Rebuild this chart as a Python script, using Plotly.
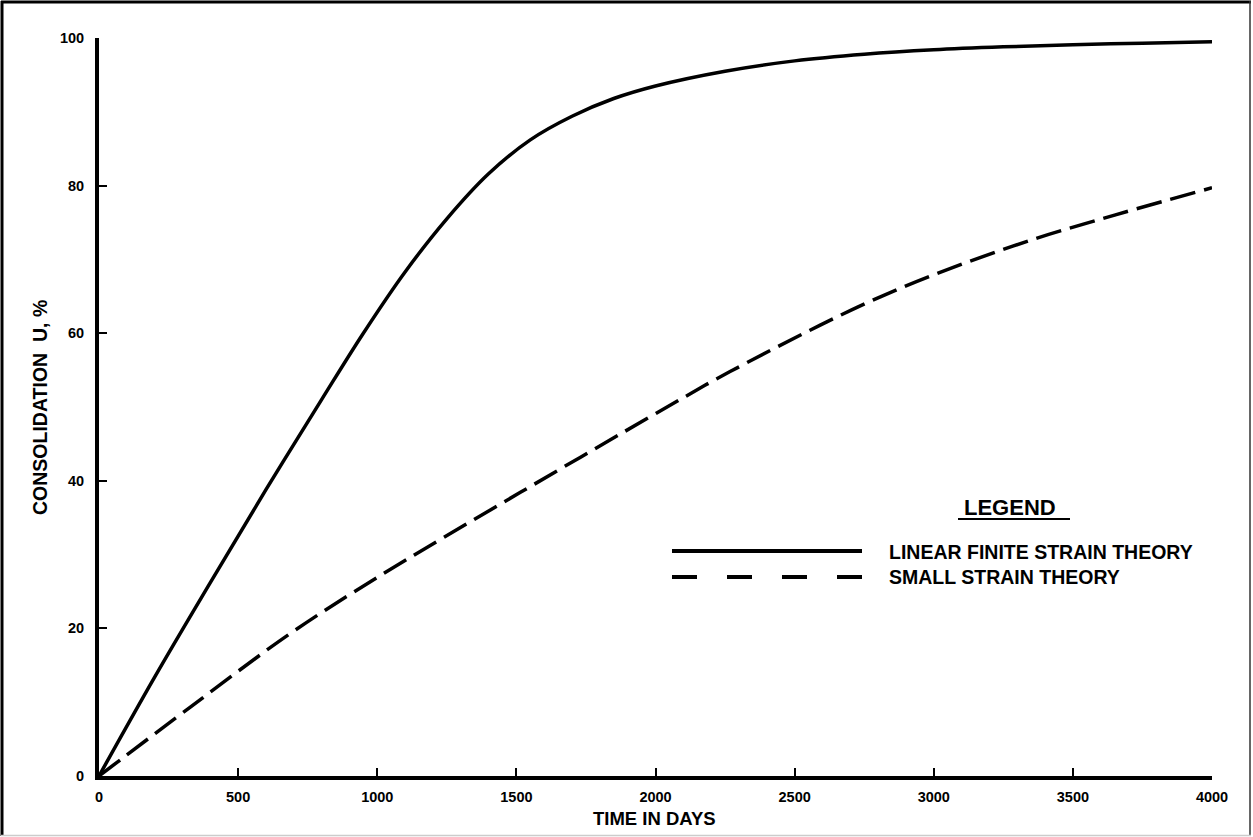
import plotly.graph_objects as go

# ---- data ----
finite_t = [0, 200, 400, 600, 800, 950, 1100, 1250, 1400, 1550, 1700, 1850, 2000,
            2250, 2500, 2750, 3000, 3250, 3500, 3750, 4000]
finite_u = [0, 13.4, 26.2, 38.8, 51.0, 60.0, 68.3, 75.5, 81.6, 86.2, 89.4, 91.8, 93.5,
            95.5, 96.9, 97.8, 98.4, 98.8, 99.1, 99.3, 99.5]

small_t = [0, 327, 687, 1000, 1513, 2088, 2268, 2806, 3284, 3650, 4000]
small_u = [0, 9.3, 19.3, 26.9, 38.4, 51.0, 54.8, 64.9, 71.8, 76.0, 79.7]

x_ticks = [0, 500, 1000, 1500, 2000, 2500, 3000, 3500, 4000]
y_ticks = [0, 20, 40, 60, 80, 100]

x_title = "TIME IN DAYS"
y_title = "CONSOLIDATION\u00a0\u00a0U, %"
legend_title = "LEGEND"
name_finite = "LINEAR FINITE STRAIN THEORY"
name_small = "SMALL STRAIN THEORY"

# ---- layout geometry ----
W, H = 1253, 837
L, R, T, B = 99, 1212, 38, 776
FONT = "Liberation Sans, Arial, sans-serif"


def px(x):
    return (x - L) / (R - L)


def py(y):
    return (B - y) / (B - T)


fig = go.Figure()
fig.add_trace(go.Scatter(x=finite_t, y=finite_u, mode="lines", name=name_finite,
                         line=dict(color="black", width=3.5, shape="spline", smoothing=1.0),
                         showlegend=False))
fig.add_trace(go.Scatter(x=small_t, y=small_u, mode="lines", name=name_small,
                         line=dict(color="black", width=3.5, dash="26px,9px", shape="spline", smoothing=1.0),
                         showlegend=False))

axis_common = dict(showgrid=False, zeroline=False, showline=True, linecolor="black", linewidth=4,
                   ticks="inside", ticklen=8, tickwidth=2, tickcolor="black",
                   tickfont=dict(family=FONT, size=14.5, color="black", weight="bold"))

fig.update_xaxes(range=[0, 4000], tickvals=x_ticks, ticktext=[str(v) for v in x_ticks],
                 ticklabelstandoff=5, **axis_common)
fig.update_yaxes(range=[0, 100], tickvals=y_ticks, ticktext=[str(v) for v in y_ticks],
                 ticklabelstandoff=8, **axis_common)

shapes = []
# legend sample lines
shapes.append(dict(type="line", xref="paper", yref="paper", x0=px(672), x1=px(862), y0=py(551), y1=py(551),
                   line=dict(color="black", width=4)))
shapes.append(dict(type="line", xref="paper", yref="paper", x0=px(672), x1=px(862), y0=py(577), y1=py(577),
                   line=dict(color="black", width=4, dash="25px,30px")))
# LEGEND underline
shapes.append(dict(type="line", xref="paper", yref="paper", x0=px(958), x1=px(1070), y0=py(519), y1=py(519),
                   line=dict(color="black", width=2)))
# image frame
shapes.append(dict(type="line", xref="paper", yref="paper", x0=px(2), x1=px(2), y0=py(1), y1=py(836),
                   line=dict(color="black", width=3)))
shapes.append(dict(type="line", xref="paper", yref="paper", x0=px(1), x1=px(1251), y0=py(2), y1=py(2),
                   line=dict(color="black", width=3)))
shapes.append(dict(type="line", xref="paper", yref="paper", x0=px(1250), x1=px(1250), y0=py(1), y1=py(836),
                   line=dict(color="#333333", width=1.5)))
shapes.append(dict(type="line", xref="paper", yref="paper", x0=px(1), x1=px(1251), y0=py(835.5), y1=py(835.5),
                   line=dict(color="#cccccc", width=1.5)))

annotations = [
    dict(text="<b>" + x_title + "</b>", xref="paper", yref="paper", x=px(654), y=py(818),
         xanchor="center", yanchor="middle", showarrow=False,
         font=dict(family=FONT, size=18.5, color="black")),
    dict(text="<b>" + y_title + "</b>", xref="paper", yref="paper", x=px(40), y=py(408),
         xanchor="center", yanchor="middle", showarrow=False, textangle=-90,
         font=dict(family=FONT, size=19.5, color="black")),
    dict(text="<b>" + legend_title + "</b>", xref="paper", yref="paper", x=px(1010), y=py(507),
         xanchor="center", yanchor="middle", showarrow=False,
         font=dict(family=FONT, size=22, color="black")),
    dict(text="<b>" + name_finite + "</b>", xref="paper", yref="paper", x=px(887), y=py(552),
         xanchor="left", yanchor="middle", showarrow=False,
         font=dict(family=FONT, size=19.5, color="black")),
    dict(text="<b>" + name_small + "</b>", xref="paper", yref="paper", x=px(887), y=py(577),
         xanchor="left", yanchor="middle", showarrow=False,
         font=dict(family=FONT, size=19.5, color="black")),
]

fig.update_layout(width=W, height=H, margin=dict(l=L, r=W - R, t=T, b=H - B, pad=0),
                  paper_bgcolor="white", plot_bgcolor="white",
                  shapes=shapes, annotations=annotations, showlegend=False)

fig.write_html("out.html", config={"displayModeBar": False},
               post_script="document.body.style.margin='0px';document.body.style.overflow='hidden';")
